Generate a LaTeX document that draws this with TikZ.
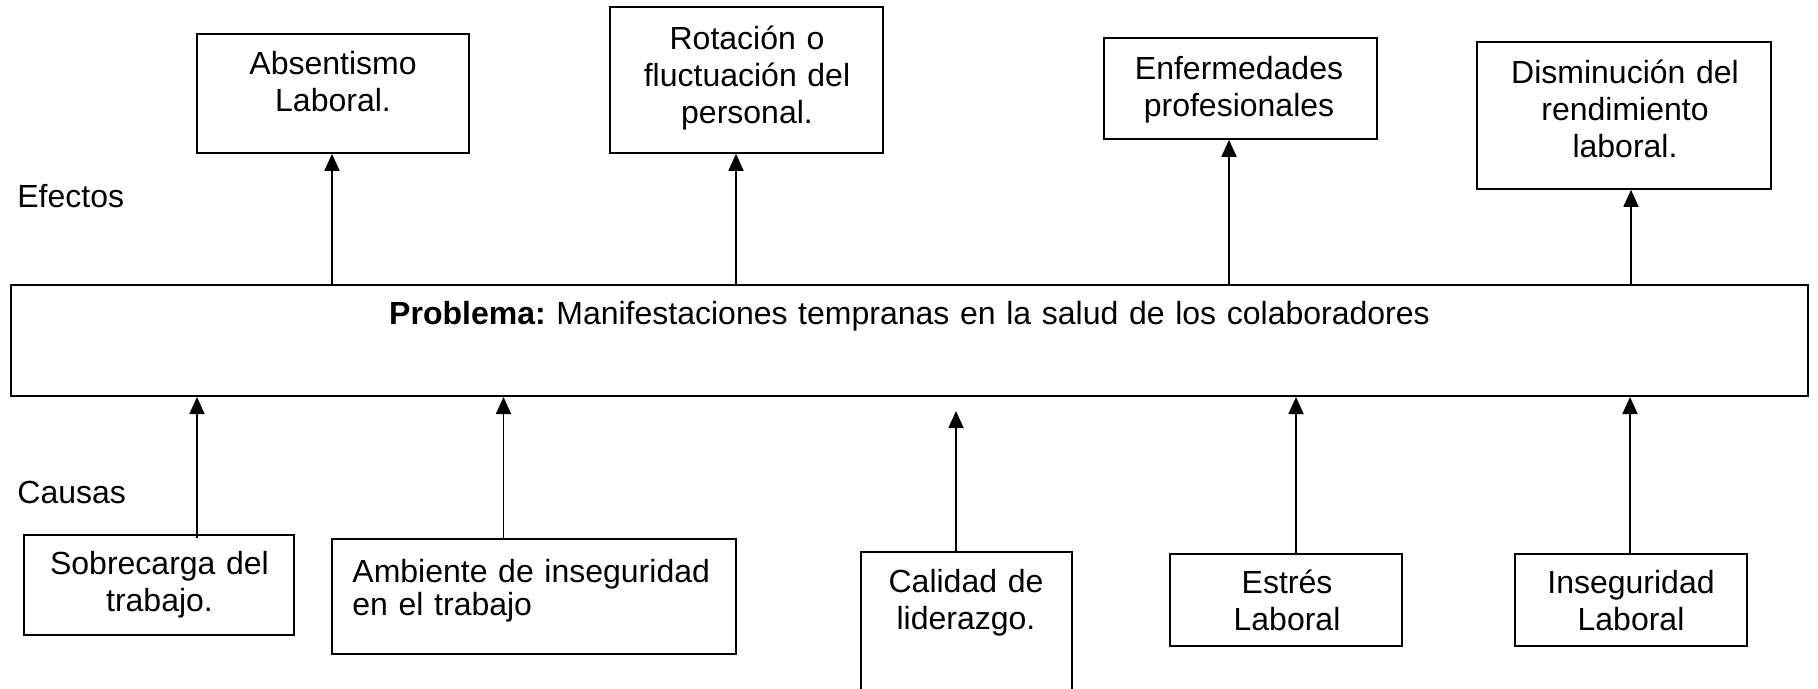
\documentclass[tikz,border=0pt]{standalone}
\usepackage{fontspec}
\setmainfont{Liberation Sans}
\usetikzlibrary{arrows.meta,fit,calc}
\frenchspacing
\begin{document}
\begin{tikzpicture}[x=0.5pt,y=-0.5pt,
  box/.style={draw, line width=0.85pt, inner sep=0pt},
  probbox/.style={draw, line width=1pt, inner sep=0pt},
  txt/.style={inner sep=0pt, anchor=base, align=center, text width=140pt,
    font=\fontsize{16pt}{18.5pt}\selectfont\frenchspacing},
  side/.style={inner sep=0pt, anchor=base west, font=\fontsize{16pt}{18.5pt}\selectfont},
  arr/.style={line width=0.9pt, -{Triangle[length=8.5pt,width=7.5pt]}}]
\useasboundingbox (0,0) rectangle (1818,689);
\clip (0,0) rectangle (1818,689);

% problem box
\node[probbox, fit={(11,285) (1808,396)}] (prob) {};
\node[txt, text width=600pt] (probT) at (909.5,325)
  {\textbf{Problema:} Manifestaciones tempranas en la salud de los colaboradores};

% side labels
\node[side] (efectos) at (17,208) {Efectos};
\node[side] (causas) at (17,503) {Causas};

% effects
\node[box, fit={(197,34) (469,153)}] (abs) {};
\node[txt] (absT) at (333,75) {Absentismo\\Laboral.};
\node[box, fit={(610,7) (883,153)}] (rot) {};
\node[txt] (rotT) at (747,50) {Rotación o\\fluctuación del\\personal.};
\node[box, fit={(1104,38) (1377,139)}] (enf) {};
\node[txt] (enfT) at (1239,80) {Enfermedades\\profesionales};
\node[box, fit={(1477,42) (1771,189)}] (dis) {};
\node[txt] (disT) at (1625,84) {Disminución del\\rendimiento\\laboral.};

% causes
\node[box, fit={(24,535) (294,635)}] (sob) {};
\node[txt] (sobT) at (159.5,574) {Sobrecarga del\\trabajo.};
\node[box, fit={(332,539) (736,654)}] (amb) {};
\node[txt, anchor=base west, align=left, text width=195pt,
  font=\fontsize{16pt}{16.5pt}\selectfont] (ambT) at (352,582)
  {Ambiente de inseguridad\\en el trabajo};
\node[box, fit={(861,552) (1072,720)}] (cal) {};
\node[txt] (calT) at (966,592) {Calidad de\\liderazgo.};
\node[box, fit={(1170,554) (1402,646)}] (est) {};
\node[txt] (estT) at (1287,593) {Estrés\\Laboral};
\node[box, fit={(1515,554) (1747,646)}] (ins) {};
\node[txt] (insT) at (1631,593) {Inseguridad\\Laboral};

% effect arrows
\coordinate (a1) at ($(abs.south)+(-1,0)$);
\coordinate (a2) at ($(rot.south)+(-10.5,0)$);
\coordinate (a3) at ($(enf.south)+(-11.5,0)$);
\coordinate (a4) at ($(dis.south)+(7,0)$);
\draw[arr] (a1 |- prob.north) -- (a1);
\draw[arr] (a2 |- prob.north) -- (a2);
\draw[arr] (a3 |- prob.north) -- (a3);
\draw[arr] (a4 |- prob.north) -- (a4);

% cause arrows
\coordinate (c1) at ($(sob.north)+(38,4)$);
\coordinate (c2) at ($(amb.north)+(-30.5,0)$);
\coordinate (c3) at ($(cal.north)+(-10.5,0)$);
\coordinate (c4) at ($(est.north)+(10,0)$);
\coordinate (c5) at ($(ins.north)+(-1,0)$);
\coordinate (c3t) at ($(prob.south)+(0,14)$);
\draw[arr] (c1) -- (c1 |- prob.south);
\draw[arr] (c2) -- (c2 |- prob.south);
\draw[arr] (c3) -- (c3 |- c3t);
\draw[arr] (c4) -- (c4 |- prob.south);
\draw[arr] (c5) -- (c5 |- prob.south);
\end{tikzpicture}
\end{document}
